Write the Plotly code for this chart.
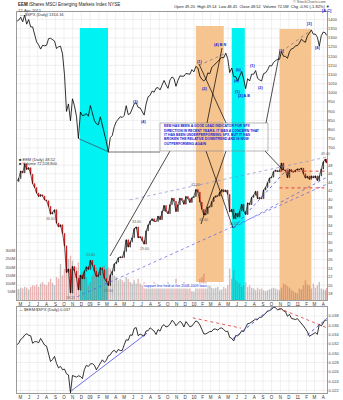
import pandas as pd
import plotly.graph_objects as go

# ---------------------------------------------------------------- data
# weekly closes (Friday), final entry is 12-Apr-2011
week_ends = list(pd.date_range("2008-04-18", "2011-04-08", freq="W-FRI")) + [pd.Timestamp("2011-04-12")]

spx_2008 = [1390, 1397, 1413, 1388, 1425, 1375, 1400, 1360, 1360, 1318, 1278, 1262, 1239,
            1260, 1257, 1260, 1296, 1298, 1292, 1283, 1242, 1252, 1255, 1213, 1099, 899,
            940, 848, 968, 930, 873, 752, 896, 876, 879, 887, 873]
spx_2009 = [931, 890, 850, 832, 826, 869, 826, 770, 735, 677, 756, 768, 816, 843, 857, 870,
            866, 877, 930, 882, 887, 919, 940, 946, 921, 918, 896, 879, 940, 979, 987, 1010,
            1004, 1026, 1029, 1016, 1042, 1068, 1044, 1025, 1071, 1087, 1079, 1036, 1069,
            1093, 1091, 1091, 1106, 1106, 1102, 1127]
spx_2010 = [1115, 1145, 1136, 1092, 1074, 1066, 1075, 1109, 1105, 1139, 1150, 1160, 1167,
            1179, 1194, 1192, 1217, 1187, 1111, 1136, 1088, 1089, 1065, 1092, 1117, 1076,
            1023, 1078, 1065, 1102, 1102, 1122, 1079, 1071, 1065, 1105, 1110, 1125, 1149,
            1147, 1166, 1176, 1183, 1183, 1225, 1200, 1199, 1189, 1225, 1240, 1244, 1257, 1258]
spx_2011 = [1272, 1293, 1283, 1276, 1311, 1329, 1343, 1320, 1321, 1304, 1256, 1313, 1332,
            1328, 1314.16]

eem_2008 = [44.2, 44.9, 46.6, 46.2, 48.3, 47.0, 47.4, 45.9, 43.7, 42.8, 41.5, 40.7, 41.1,
            40.8, 39.9, 39.7, 38.4, 36.6, 37.0, 37.6, 34.5, 33.6, 34.1, 32.1, 29.2, 23.0,
            23.8, 18.22, 24.4, 23.3, 21.7, 18.9, 22.4, 21.5, 23.3, 24.3, 23.7]
eem_2009 = [25.8, 24.7, 23.3, 22.0, 22.4, 24.1, 23.6, 21.6, 20.9, 19.94, 22.4, 23.3, 25.0,
            25.4, 26.4, 26.6, 26.5, 27.9, 30.6, 28.9, 30.1, 31.1, 33.2, 33.6, 31.1, 31.3,
            30.4, 29.6, 32.7, 34.1, 35.0, 35.5, 34.9, 34.9, 36.1, 35.3, 37.3, 38.6, 37.2,
            36.7, 38.8, 40.3, 39.6, 37.2, 38.8, 40.3, 39.8, 38.9, 40.7, 40.2, 39.3, 40.4]
eem_2010 = [40.7, 42.3, 41.7, 39.4, 37.7, 36.4, 36.7, 38.2, 38.3, 39.5, 40.5, 40.8, 40.8,
            41.7, 42.3, 41.8, 42.2, 41.2, 37.1, 37.7, 35.5, 36.8, 35.9, 37.3, 38.9, 37.3,
            36.5, 39.2, 38.8, 40.5, 41.0, 41.9, 40.2, 40.4, 40.2, 42.2, 42.8, 43.9, 45.0,
            45.2, 46.5, 46.8, 46.5, 46.7, 48.5, 46.9, 46.7, 45.1, 47.0, 46.5, 46.4, 46.8, 47.1]
eem_2011 = [47.0, 47.3, 46.0, 45.0, 45.4, 44.7, 45.5, 45.0, 45.5, 44.4, 45.5, 47.1, 48.8,
            49.4, 48.52]

vol_2008 = [70, 65, 75, 70, 80, 75, 65, 80, 90, 85, 95, 80, 100, 110, 95, 90, 110, 130, 105,
            90, 140, 130, 220, 150, 190, 300, 250, 270, 240, 170, 200, 230, 150, 170, 160, 140, 90]
vol_2009 = [110, 150, 190, 200, 170, 180, 170, 210, 190, 200, 190, 170, 150, 140, 120, 130,
            120, 110, 140, 130, 110, 100, 120, 100, 130, 100, 90, 110, 100, 90, 85, 90, 110,
            100, 90, 85, 80, 90, 95, 110, 85, 80, 90, 130, 95, 80, 85, 110, 75, 70, 80, 55]
vol_2010 = [50, 75, 80, 130, 140, 160, 110, 90, 85, 75, 70, 75, 80, 60, 65, 80, 70, 90, 190,
            130, 180, 120, 110, 100, 80, 90, 110, 80, 90, 75, 70, 60, 75, 65, 70, 60, 55, 60,
            65, 70, 75, 70, 65, 60, 75, 100, 95, 85, 75, 60, 55, 45, 40]
vol_2011 = [70, 65, 90, 120, 95, 90, 70, 100, 75, 90, 110, 70, 65, 60, 72.5]

spx = spx_2008 + spx_2009 + spx_2010 + spx_2011
eem = eem_2008 + eem_2009 + eem_2010 + eem_2011
volume_m = vol_2008 + vol_2009 + vol_2010 + vol_2011
assert len(spx) == len(eem) == len(volume_m) == len(week_ends)

# shaded periods
cyan_periods = [("2008-11-26", "2009-03-05"), ("2010-05-14", "2010-06-29")]
orange_periods = [("2010-01-08", "2010-04-16"), ("2010-10-29", "2011-02-18")]

# swing points tagged with their EEM price (date, above/below)
eem_tags = [("2008-08-15", "below"), ("2008-10-24", "below"), ("2009-01-02", "above"),
            ("2009-03-06", "below"), ("2009-06-12", "above"), ("2009-07-10", "below"),
            ("2010-01-08", "above"), ("2010-02-05", "below"), ("2010-05-21", "below"),
            ("2011-04-08", "above")]

spx_ticks = list(range(700, 1401, 50))
eem_ticks = list(range(18, 49, 2))
vol_ticks = [50, 100, 150, 200, 250, 300]
ratio_ticks = [0.022, 0.024, 0.026, 0.028, 0.030, 0.032, 0.034, 0.036, 0.038]

# ---------------------------------------------------------------- derived series
eem_open = [eem[0]] + eem[:-1]
eem_high = [max(o, c) for o, c in zip(eem_open, eem)]
eem_low = [min(o, c) for o, c in zip(eem_open, eem)]
ratio = [e / s for e, s in zip(eem, spx)]
vol_colors = ["rgba(205,80,80,0.42)" if c < o else "rgba(110,110,110,0.42)"
              for o, c in zip(eem_open, eem)]

# ---------------------------------------------------------------- geometry
W, H = 343, 400
def px(x):
    return x / W
def py(y):
    return 1 - y / H

MAIN_DOM = [py(300), py(12)]
LOW_DOM = [py(393), py(307)]
VOL_RANGE = [0, 1756]
EEM_RANGE = [16.57, 83.7]
SPX_RANGE = [-129.8, 1441.4]
RATIO_RANGE = [0.021441, 0.039935]
X_RANGE = ["2008-04-19", "2011-04-14"]

def to_paper(v, rng, dom):
    return dom[0] + (v - rng[0]) / (rng[1] - rng[0]) * (dom[1] - dom[0])

FONT = "Liberation Sans, Arial, sans-serif"
BLUE = "#2020d0"
GRID = "#e6e6e6"

fig = go.Figure()

fig.add_trace(go.Bar(x=week_ends, y=volume_m, marker=dict(color=vol_colors, line_width=0),
                     width=5 * 86400000, xaxis="x", yaxis="y", hoverinfo="skip"))
fig.add_trace(go.Candlestick(x=week_ends, open=eem_open, high=eem_high, low=eem_low, close=eem,
                             xaxis="x", yaxis="y2", whiskerwidth=0,
                             increasing=dict(line=dict(color="black", width=0.6), fillcolor="white"),
                             decreasing=dict(line=dict(color="#c00000", width=0.6), fillcolor="#e00000")))
fig.add_trace(go.Scatter(x=week_ends, y=eem, mode="lines", xaxis="x", yaxis="y2",
                         line=dict(color="black", width=0.6)))
fig.add_trace(go.Scatter(x=week_ends, y=spx, mode="lines", xaxis="x", yaxis="y3",
                         line=dict(color="black", width=0.8)))
fig.add_trace(go.Scatter(x=week_ends, y=ratio, mode="lines", xaxis="x2", yaxis="y4",
                         line=dict(color="black", width=0.8)))

# month ticks
months = pd.date_range("2008-05-01", "2011-04-01", freq="MS")
month_text = [f"{m:%y}" if m.month == 1 else f"{m:%b}"[0] for m in months]

xcommon = dict(type="date", range=X_RANGE, domain=[px(17), px(327)],
               tickvals=list(months), ticktext=month_text, showgrid=False,
               showline=True, linecolor="#9a9a9a", linewidth=0.6, mirror=True,
               ticks="", tickfont=dict(size=4.5, color="#333", family=FONT),
               rangeslider=dict(visible=False), zeroline=False)
ytick = dict(size=4, color="#444", family=FONT)

fig.update_layout(
    width=W, height=H, margin=dict(l=0, r=0, t=0, b=0),
    paper_bgcolor="white", plot_bgcolor="white", showlegend=False,
    xaxis=dict(**xcommon, anchor="y"),
    xaxis2=dict(**xcommon, anchor="y4", matches="x"),
    yaxis=dict(domain=MAIN_DOM, range=VOL_RANGE, side="left", tickvals=vol_ticks,
               ticktext=[f"{v}M" for v in vol_ticks], showgrid=False, zeroline=False,
               tickfont=ytick, ticks="", showline=True,
               linecolor="#9a9a9a", linewidth=0.6, mirror=True),
    yaxis2=dict(overlaying="y", anchor="x", side="right", range=EEM_RANGE,
                tickvals=eem_ticks, showgrid=False, zeroline=False, ticks="", tickfont=ytick),
    yaxis3=dict(overlaying="y", anchor="x", side="right", range=SPX_RANGE,
                tickvals=spx_ticks, showgrid=False, zeroline=False, ticks="", tickfont=ytick),
    yaxis4=dict(domain=LOW_DOM, anchor="x2", side="right", range=RATIO_RANGE,
                tickvals=ratio_ticks, tickformat=".3f", showgrid=False, zeroline=False,
                ticks="", showline=True, linecolor="#9a9a9a", linewidth=0.6, mirror=True,
                tickfont=ytick),
)

shapes = []
# grid, drawn first so the shaded periods sit on top of it
for m in months:
    for dom in (MAIN_DOM, LOW_DOM):
        shapes.append(dict(type="line", xref="x", yref="paper", x0=m, x1=m, y0=dom[0], y1=dom[1],
                           line=dict(color=GRID, width=0.6), layer="below"))
for v in spx_ticks:
    yp = to_paper(v, SPX_RANGE, MAIN_DOM)
    shapes.append(dict(type="line", xref="paper", yref="paper", x0=px(17), x1=px(327), y0=yp, y1=yp,
                       line=dict(color=GRID, width=0.6), layer="below"))
for v in eem_ticks:
    yp = to_paper(v, EEM_RANGE, MAIN_DOM)
    shapes.append(dict(type="line", xref="paper", yref="paper", x0=px(17), x1=px(327), y0=yp, y1=yp,
                       line=dict(color=GRID, width=0.6), layer="below"))
for v in ratio_ticks:
    yp = to_paper(v, RATIO_RANGE, LOW_DOM)
    shapes.append(dict(type="line", xref="paper", yref="paper", x0=px(17), x1=px(327), y0=yp, y1=yp,
                       line=dict(color=GRID, width=0.6), layer="below"))

# shaded periods
for a, b in cyan_periods:
    shapes.append(dict(type="rect", xref="x", yref="paper", x0=a, x1=b, y0=py(300), y1=py(28),
                       fillcolor="#00f2f2", line_width=0, layer="below"))
shapes.append(dict(type="rect", xref="x", yref="paper", x0=orange_periods[0][0],
                   x1=orange_periods[0][1], y0=py(282), y1=py(26), fillcolor="#f6c48f",
                   line_width=0, layer="below"))
shapes.append(dict(type="rect", xref="x", yref="paper", x0=orange_periods[1][0],
                   x1=orange_periods[1][1], y0=py(300), y1=py(29), fillcolor="#f6c48f",
                   line_width=0, layer="below"))

def seg(x0, y0, x1, y1, yref, color, width=0.7, dash="solid"):
    shapes.append(dict(type="line", xref="x" if yref != "y4" else "x2", yref=yref,
                       x0=x0, y0=y0, x1=x1, y1=y1, line=dict(color=color, width=width, dash=dash)))

# trendlines on $SPX
seg("2008-11-20", 752, "2009-03-09", 677, "y3", "#44506a", 0.8)
seg("2010-01-19", 1150, "2010-04-23", 1217, "y3", "#6a6a8a", 0.7, "dot")
seg("2010-11-05", 1225, "2011-02-18", 1343, "y3", "#6a6a8a", 0.7, "dot")
# trendlines on EEM
seg("2008-11-16", 17.3, "2011-04-14", 43.6, "y2", "#5a5af0", 0.7, "dot")
seg("2009-05-20", 39.9, "2011-04-14", 49.9, "y2", "#8a8ad0", 0.7, "dot")
seg("2010-05-20", 33.4, "2010-12-03", 47.6, "y2", "#3030e0", 0.7, "dot")
seg("2010-05-20", 33.4, "2011-04-14", 45.2, "y2", "#5050e0", 0.7, "dot")
seg("2010-10-29", 46.6, "2011-04-14", 46.6, "y2", "#e03030", 0.9, "dot")
seg("2010-10-29", 42.7, "2011-04-14", 42.7, "y2", "#e03030", 0.9, "dot")
# trendlines on the ratio
seg("2008-10-27", 0.0219, "2009-07-20", 0.0343, "y4", "#3030e0", 0.7)
seg("2009-12-28", 0.0376, "2010-06-15", 0.0354, "y4", "#e03030", 0.8, "dot")
seg("2010-05-18", 0.0331, "2010-10-05", 0.0399, "y4", "#3030e0", 0.8, "dot")
seg("2010-10-26", 0.0397, "2011-04-16", 0.0354, "y4", "#e03030", 0.8, "dot")
seg("2011-02-04", 0.0339, "2011-04-16", 0.0376, "y4", "#3030e0", 0.8, "dot")

# connector lines from the comment box
for (x0, y0), (x1, y1), col in [((160, 152), (108, 152), "#333"),
                                ((170, 151), (110, 256), "black"),
                                ((207, 123), (222, 48), "black"),
                                ((226, 123), (199, 64), "black"),
                                ((206, 151), (233, 228), "black"),
                                ((226, 151), (201, 224), "black"),
                                ((266, 123), (280, 51), "black"),
                                ((265, 151), (283, 170), "black")]:
    shapes.append(dict(type="line", xref="paper", yref="paper", x0=px(x0), y0=py(y0),
                       x1=px(x1), y1=py(y1), line=dict(color=col, width=0.7)))

shapes.append(dict(type="rect", xref="paper", yref="paper", x0=px(160), x1=px(268),
                   y0=py(151), y1=py(123), line=dict(color="#888", width=0.6)))
fig.update_layout(shapes=shapes)

ann = []
def text(x, y, s, size=4.5, color="#222", anchor="left", bold=False, bg=None):
    ann.append(dict(xref="paper", yref="paper", x=px(x), y=py(y), text=f"<b>{s}</b>" if bold else s,
                    showarrow=False, xanchor=anchor, yanchor="middle",
                    font=dict(size=size, color=color, family=FONT),
                    bgcolor=bg, borderpad=0))

text(17, 4, "<b>EEM</b> iShares MSCI Emerging Markets Index NYSE", 4.5)
text(17, 10, "12-Apr-2011", 4.2, "#444")
text(19, 15, "— $SPX (Daily) 1314.16", 4, "#333")
text(173, 7, "Open 49.20  High 49.14  Low 48.45  Close 48.52  Volume 72.5M  Chg -0.90 (-1.82%) ▼", 4, "#222")
text(327, 2.5, "© StockCharts.com", 3.8, "#555", "right")
text(333, 10, "[A C]", 4, BLUE, "right", True)
text(18, 159, "■ EEM (Daily) 48.52", 4, "#333")
text(18, 163.5, "■ Volume 72,518,800", 4, "#333")
text(18, 309, "— $EEM:$SPX (Daily) 0.037", 4, "#333")

box_lines = ["EEM HAS BEEN A GOOD LEAD INDICATOR FOR SPX",
             "DIRECTION IN RECENT YEARS. IT WAS A CONCERN THAT",
             "IT HAS BEEN UNDERPERFORMING SPX, BUT IT HAS",
             "BROKEN THE RELATIVE DOWNTREND AND IS NOW",
             "OUTPERFORMING AGAIN"]
for i, line in enumerate(box_lines):
    text(163, 126.5 + i * 4.3, line, 3.4, BLUE, bold=True)

# wave labels
for x, y, s in [(199, 62, "(1)"), (204, 89, "(2)"), (220, 45, "(4) B N"), (236, 81, "(a)"),
                (239, 70, "(b)"), (237, 92, "(1)"), (244, 96, "[2] A B"), (252, 66, "(1)"),
                (260, 88, "(2)"), (281, 51, "[1]"), (309, 24, "[3]"), (317, 48, "[4]"),
                (135, 102, "(3)"), (143, 122, "(4)")]:
    text(x, y, s, 3.8, BLUE, "center", True)

text(175, 286, "support line held at the 2008-2009 lows", 3.6, BLUE, "center", bg="white")

# EEM price tags at swing points
eem_by_date = dict(zip([d.strftime("%Y-%m-%d") for d in week_ends], eem))
for d, where in eem_tags:
    v = eem_by_date[d]
    ann.append(dict(xref="x", yref="y2", x=d, y=v, text=f"{v:.2f}", showarrow=False,
                    yshift=-5 if where == "below" else 5, font=dict(size=3.6, color="#666", family=FONT)))

fig.update_layout(annotations=ann)
fig.write_html("out.html")
